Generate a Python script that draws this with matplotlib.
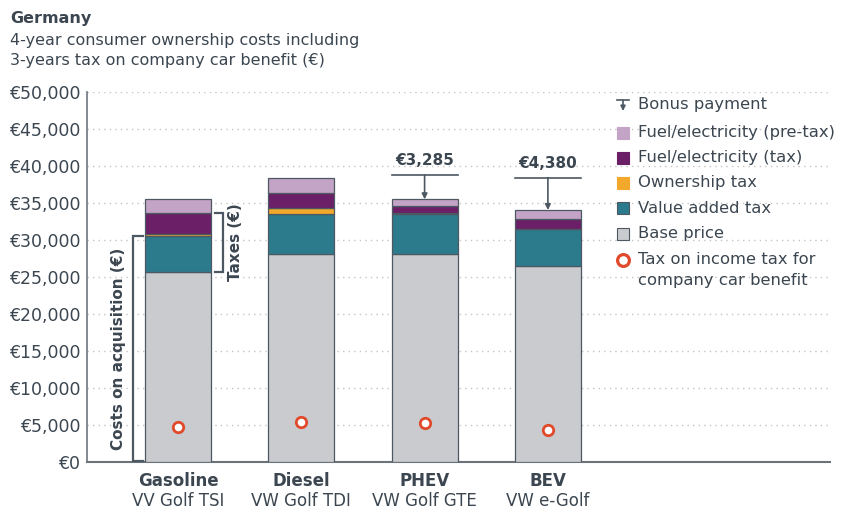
import matplotlib
matplotlib.use("Agg")
import matplotlib.pyplot as plt
from matplotlib.patches import Rectangle
from matplotlib.lines import Line2D

# ---- data (€) ----
categories = ["Gasoline", "Diesel", "PHEV", "BEV"]
models = ["VV Golf TSI", "VW Golf TDI", "VW Golf GTE", "VW e-Golf"]
base_price = [25640, 28030, 28070, 26450]
vat = [4860, 5440, 5440, 5040]
ownership_tax = [270, 770, 140, 0]
fuel_tax = [2840, 2110, 940, 1350]
fuel_pretax = [1850, 1990, 870, 1170]
income_tax_benefit = [4650, 5410, 5270, 4320]
bonus = [0, 0, 3285, 4380]
bonus_labels = ["", "", "€3,285", "€4,380"]
yticks = [0, 5000, 10000, 15000, 20000, 25000, 30000, 35000, 40000, 45000, 50000]

W, H = 841, 509
TXT = "#3b4650"
EDGE = "#4d5862"
C_PRE = "#c3a3c6"
C_FTAX = "#6a1f67"
C_OWN = "#f2a92b"
C_VAT = "#2c7b8c"
C_BASE = "#c9cbce"
C_CIRC = "#e04a2a"

plt.rcParams["font.family"] = ["DejaVu Sans"]

fig = plt.figure(figsize=(W / 100, H / 100), dpi=100)
ax = fig.add_axes([87 / W, 1 - 461.7 / H, (830 - 87) / W, (461.7 - 91.7) / H])

x = list(range(len(categories)))
bw = 0.535
series = [(base_price, C_BASE), (vat, C_VAT), (ownership_tax, C_OWN),
          (fuel_tax, C_FTAX), (fuel_pretax, C_PRE)]
bottoms = [0] * len(x)
for vals, col in series:
    ax.bar(x, vals, bw, bottom=bottoms, color=col, edgecolor=EDGE, linewidth=0.9, zorder=3)
    bottoms = [b + v for b, v in zip(bottoms, vals)]
totals = bottoms

ax.plot(x, income_tax_benefit, linestyle="none", marker="o", markersize=7.5,
        markerfacecolor="white", markeredgecolor=C_CIRC, markeredgewidth=2.0, zorder=5)

# bonus payment arrows
for xi, t, b, lab in zip(x, totals, bonus, bonus_labels):
    if b <= 0:
        continue
    top = t + b
    ax.plot([xi - bw / 2, xi + bw / 2], [top, top], color=EDGE, lw=1.2, zorder=4)
    ax.annotate("", xy=(xi, t), xytext=(xi, top),
                arrowprops=dict(arrowstyle="-|>", color=EDGE, lw=1.2, mutation_scale=8,
                                shrinkA=0, shrinkB=0), zorder=4)
    ax.text(xi, top + 900, lab, ha="center", va="bottom", fontsize=11,
            fontweight="bold", color=TXT)

ax.set_ylim(0, 50000)
ax.set_xlim((87 - 178) / 123.3, (830 - 178) / 123.3)
ax.set_yticks(yticks)
ax.set_yticklabels([f"€{v:,}" for v in yticks], fontsize=12.5, color=TXT)
ax.tick_params(axis="y", length=0, pad=5)
ax.set_xticks([])
for v in yticks[1:]:
    ax.axhline(v, color="#c4c4c4", lw=1, linestyle=(0, (1, 3)), zorder=1)
for s in ["top", "right"]:
    ax.spines[s].set_visible(False)
ax.spines["left"].set_color("#7a8088")
ax.spines["left"].set_linewidth(1.3)
ax.spines["bottom"].set_color("#6a727a")
ax.spines["bottom"].set_linewidth(1.5)

# category labels
xt = ax.get_xaxis_transform()
for xi, c, m in zip(x, categories, models):
    ax.text(xi, -0.052, c, transform=xt, ha="center", va="center",
            fontsize=12, fontweight="bold", color=TXT)
    ax.text(xi, -0.105, m, transform=xt, ha="center", va="center",
            fontsize=12, color=TXT)

# brackets
def px2x(p):
    return (p - 178) / 123.3

bx, btx = px2x(133), px2x(143)
ctop = base_price[0] + vat[0]
ax.plot([btx, bx, bx, btx], [ctop, ctop, 150, 150], color=EDGE, lw=1.6,
        clip_on=False, zorder=4, solid_joinstyle="miter")
ax.text(px2x(119), ctop / 2, "Costs on acquisition (€)", rotation=90, ha="center",
        va="center", fontsize=11, fontweight="bold", color=TXT)

tx, ttx = px2x(223), px2x(215)
ttop = base_price[0] + vat[0] + ownership_tax[0] + fuel_tax[0]
tbot = base_price[0]
ax.plot([ttx, tx, tx, ttx], [ttop, ttop, tbot, tbot], color=EDGE, lw=1.6,
        zorder=4, solid_joinstyle="miter")
ax.text(px2x(235), (ttop + tbot) / 2, "Taxes (€)", rotation=90, ha="center",
        va="center", fontsize=11, fontweight="bold", color=TXT)

# titles
def fx(p):
    return p / W

def fy(p):
    return 1 - p / H

fig.text(fx(10), fy(18), "Germany", fontsize=11.5, fontweight="bold", color=TXT,
         ha="left", va="center")
fig.text(fx(10), fy(40), "4-year consumer ownership costs including", fontsize=11.5,
         color=TXT, ha="left", va="center")
fig.text(fx(10), fy(60), "3-years tax on company car benefit (€)", fontsize=11.5,
         color=TXT, ha="left", va="center")

# legend (manual)
LFS = 11.8
leg_items = [(132.7, C_PRE, "Fuel/electricity (pre-tax)"),
             (157.7, C_FTAX, "Fuel/electricity (tax)"),
             (182.7, C_OWN, "Ownership tax"),
             (208.3, C_VAT, "Value added tax"),
             (234.0, C_BASE, "Base price")]
sq = 12
for yc, col, lab in leg_items:
    fig.patches.append(Rectangle((fx(617), fy(yc + sq / 2)), sq / W, sq / H,
                                 transform=fig.transFigure, facecolor=col,
                                 edgecolor=EDGE if col == C_BASE or col == C_VAT else col,
                                 linewidth=0.8))
    fig.text(fx(638), fy(yc), lab, fontsize=LFS, color=TXT, ha="left", va="center")

# bonus symbol
fig.add_artist(Line2D([fx(617), fx(629)], [fy(100), fy(100)], color=EDGE, lw=1.2,
                      transform=fig.transFigure))
fig.patches.append(matplotlib.patches.FancyArrowPatch(
    (fx(623), fy(100)), (fx(623), fy(111)), transform=fig.transFigure,
    arrowstyle="-|>", mutation_scale=7, color=EDGE, lw=1.2, shrinkA=0, shrinkB=0))
fig.text(fx(638), fy(105), "Bonus payment", fontsize=LFS, color=TXT, ha="left", va="center")

fig.add_artist(Line2D([fx(623)], [fy(260)], marker="o", markersize=8.5,
                      markerfacecolor="white", markeredgecolor=C_CIRC, markeredgewidth=2.3,
                      linestyle="none", transform=fig.transFigure))
fig.text(fx(638), fy(260), "Tax on income tax for", fontsize=LFS, color=TXT,
         ha="left", va="center")
fig.text(fx(638), fy(280), "company car benefit", fontsize=LFS, color=TXT,
         ha="left", va="center")

fig.savefig("out.png", dpi=100)
